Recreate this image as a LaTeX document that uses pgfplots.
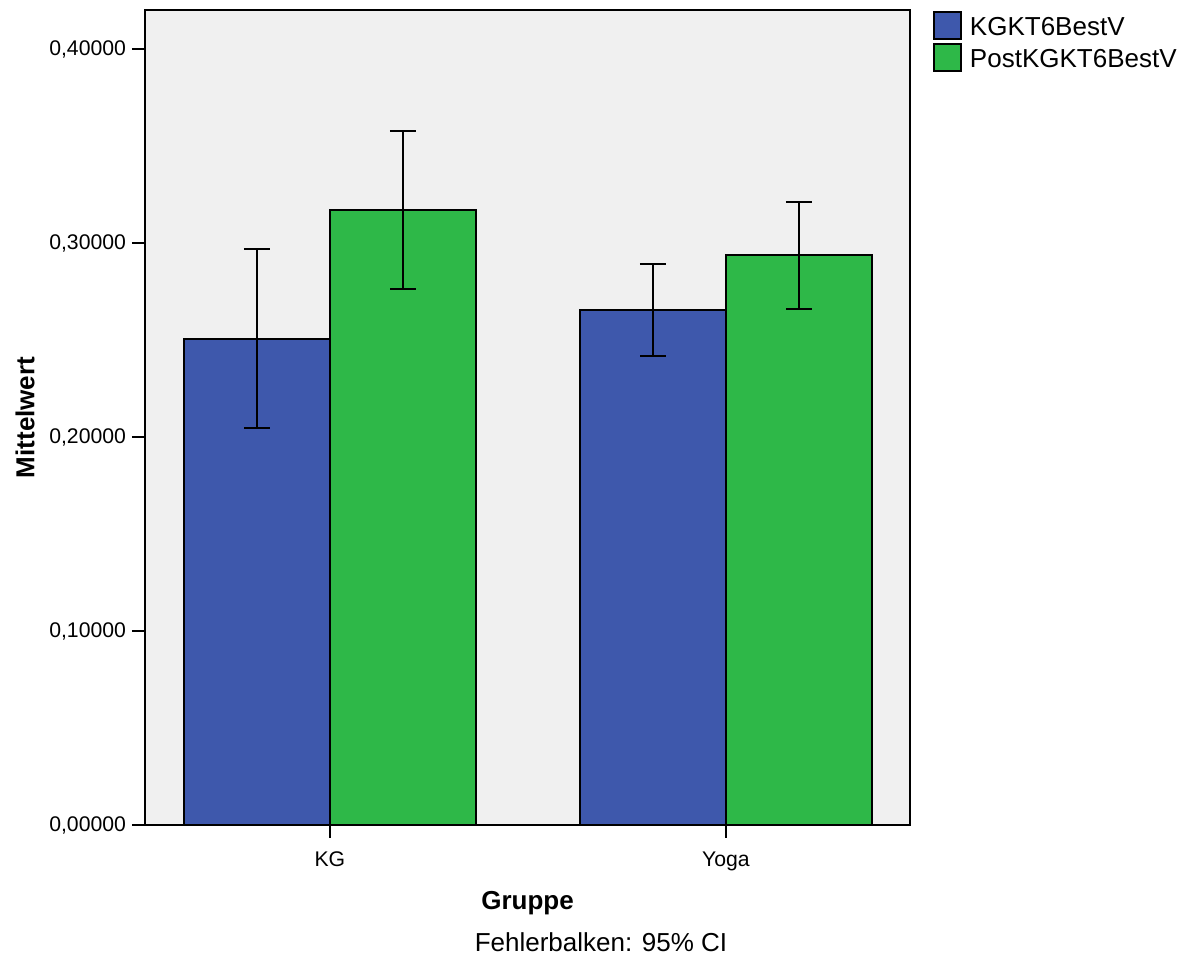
\documentclass[border=0pt]{standalone}
\usepackage{pgfplots}
\pgfplotsset{compat=1.18}
\usepackage{fontspec}
\setmainfont{Liberation Sans}
\definecolor{cblue}{RGB}{62,88,172}
\definecolor{cgreen}{RGB}{46,184,72}
\definecolor{cbg}{RGB}{240,240,240}
\begin{document}
\begin{tikzpicture}
\useasboundingbox (-72.5pt,-65.5pt) rectangle (525pt,412.5pt);
\begin{axis}[
  at={(0,0)}, anchor=south west,
  scale only axis, width=382.5pt, height=407.5pt,
  clip=false,
  axis background/.style={fill=cbg},
  axis line style={line width=1pt},
  xmin=-0.467, xmax=1.465, ymin=0, ymax=0.4201,
  ybar=0pt, bar width=73pt,
  xtick={0,1}, xticklabels={KG,Yoga},
  ytick={0,0.1,0.2,0.3,0.4},
  tick align=outside, tick pos=left,
  major tick length=6.5pt,
  tick style={line width=1pt, black},
  /pgf/number format/.cd, fixed, fixed zerofill, precision=5, use comma, assume math mode=true,
  /pgfplots/.cd,
  ticklabel style={font=\fontsize{10.6pt}{12pt}\selectfont},
  xticklabel style={yshift=-3.5pt},
  yticklabel style={xshift=0.5pt},
  ylabel={Mittelwert},
  ylabel style={font=\fontsize{13pt}{15pt}\selectfont\bfseries, at={(rel axis cs:0,0.5)}, anchor=center, rotate=0, yshift=60pt},
  xlabel={Gruppe},
  xlabel style={font=\fontsize{13pt}{15pt}\selectfont\bfseries, at={(rel axis cs:0.5,0)}, anchor=center, yshift=-39pt},
  legend style={at={(1,1)}, anchor=north west, xshift=11.5pt, yshift=-0.5pt, draw=none, fill=none, inner sep=0pt, row sep=0.5pt,
    font=\fontsize{13pt}{15pt}\selectfont, cells={anchor=west}, nodes={inner xsep=4pt}},
  legend image code/.code={\draw[#1, draw=black, line width=0.8pt] (0pt,-5.75pt) rectangle (13.5pt,7.75pt);},
  error bars/y dir=both, error bars/y explicit,
  error bars/error bar style={line width=1pt, black},
  error bars/error mark options={line width=1pt, black, rotate=90, mark size=6.5pt},
]
\addplot[fill=cblue, draw=black, line width=0.8pt] coordinates {
  (0,0.2505) += (0,0.0464) -= (0,0.0459)
  (1,0.2655) += (0,0.0237) -= (0,0.0237)
};
\addplot[fill=cgreen, draw=black, line width=0.8pt] coordinates {
  (0,0.3170) += (0,0.0407) -= (0,0.0407)
  (1,0.2938) += (0,0.0273) -= (0,0.0278)
};
\legend{KGKT6BestV,PostKGKT6BestV}
\node[font=\fontsize{13pt}{15pt}\selectfont, anchor=center] at ([xshift=228pt,yshift=-58.5pt]rel axis cs:0,0) {Fehlerbalken: 95\% CI};
\end{axis}
\end{tikzpicture}
\end{document}
